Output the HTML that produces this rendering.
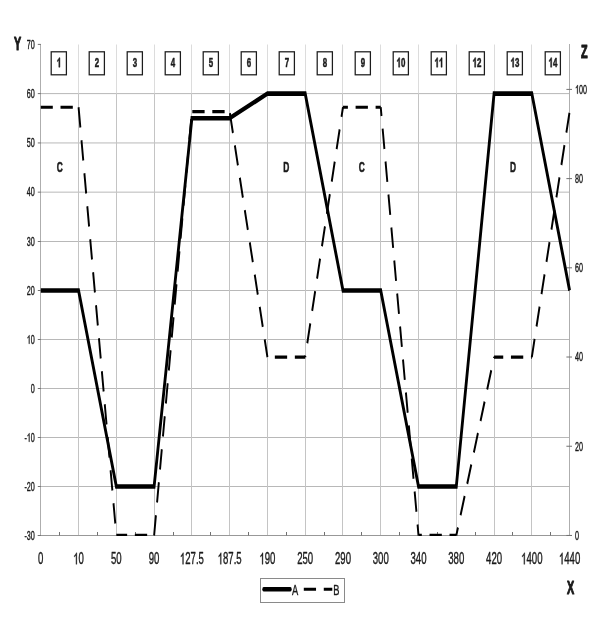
<!DOCTYPE html>
<html><head><meta charset="utf-8"><style>
html,body{margin:0;padding:0;background:#fff;}
svg{display:block;will-change:transform;font-family:"Liberation Sans",sans-serif;}
svg text{fill:#1a1a1a;stroke:#1a1a1a;stroke-width:0.4px;stroke-linejoin:round;}
svg text.b{stroke-width:0.55px;}
svg path.g{fill:#1a1a1a;stroke:#1a1a1a;stroke-linejoin:round;}
svg text.t{stroke-width:1.1px;}
</style></head><body>
<svg width="602" height="626" viewBox="0 0 602 626">
<defs><clipPath id="plotclip"><rect x="0" y="40" width="1100" height="495.9"/></clipPath></defs>
<rect width="602" height="626" fill="#fff"/>
<g>
<line x1="40.80" x2="569.60" y1="486.50" y2="486.50" stroke="#b8b8b8" stroke-width="1"/>
<line x1="40.80" x2="569.60" y1="437.50" y2="437.50" stroke="#b8b8b8" stroke-width="1"/>
<line x1="40.80" x2="569.60" y1="388.50" y2="388.50" stroke="#b8b8b8" stroke-width="1"/>
<line x1="40.80" x2="569.60" y1="339.50" y2="339.50" stroke="#b8b8b8" stroke-width="1"/>
<line x1="40.80" x2="569.60" y1="290.50" y2="290.50" stroke="#b8b8b8" stroke-width="1"/>
<line x1="40.80" x2="569.60" y1="241.50" y2="241.50" stroke="#b8b8b8" stroke-width="1"/>
<line x1="40.80" x2="569.60" y1="192.15" y2="192.15" stroke="#b8b8b8" stroke-width="1"/>
<line x1="40.80" x2="569.60" y1="142.95" y2="142.95" stroke="#b8b8b8" stroke-width="1"/>
<line x1="40.80" x2="569.60" y1="93.60" y2="93.60" stroke="#b8b8b8" stroke-width="1"/>
<line x1="78.50" x2="78.50" y1="44.50" y2="93.60" stroke="#dcdcdc" stroke-width="1"/>
<line x1="78.50" x2="78.50" y1="93.60" y2="535.50" stroke="#c4c4c4" stroke-width="1"/>
<line x1="116.50" x2="116.50" y1="44.50" y2="93.60" stroke="#dcdcdc" stroke-width="1"/>
<line x1="116.50" x2="116.50" y1="93.60" y2="535.50" stroke="#c4c4c4" stroke-width="1"/>
<line x1="154.50" x2="154.50" y1="44.50" y2="93.60" stroke="#dcdcdc" stroke-width="1"/>
<line x1="154.50" x2="154.50" y1="93.60" y2="535.50" stroke="#c4c4c4" stroke-width="1"/>
<line x1="191.50" x2="191.50" y1="44.50" y2="93.60" stroke="#dcdcdc" stroke-width="1"/>
<line x1="191.50" x2="191.50" y1="93.60" y2="535.50" stroke="#c4c4c4" stroke-width="1"/>
<line x1="229.50" x2="229.50" y1="44.50" y2="93.60" stroke="#dcdcdc" stroke-width="1"/>
<line x1="229.50" x2="229.50" y1="93.60" y2="535.50" stroke="#c4c4c4" stroke-width="1"/>
<line x1="267.50" x2="267.50" y1="44.50" y2="93.60" stroke="#dcdcdc" stroke-width="1"/>
<line x1="267.50" x2="267.50" y1="93.60" y2="535.50" stroke="#c4c4c4" stroke-width="1"/>
<line x1="305.50" x2="305.50" y1="44.50" y2="93.60" stroke="#dcdcdc" stroke-width="1"/>
<line x1="305.50" x2="305.50" y1="93.60" y2="535.50" stroke="#c4c4c4" stroke-width="1"/>
<line x1="342.50" x2="342.50" y1="44.50" y2="93.60" stroke="#dcdcdc" stroke-width="1"/>
<line x1="342.50" x2="342.50" y1="93.60" y2="535.50" stroke="#c4c4c4" stroke-width="1"/>
<line x1="380.50" x2="380.50" y1="44.50" y2="93.60" stroke="#dcdcdc" stroke-width="1"/>
<line x1="380.50" x2="380.50" y1="93.60" y2="535.50" stroke="#c4c4c4" stroke-width="1"/>
<line x1="418.50" x2="418.50" y1="44.50" y2="93.60" stroke="#dcdcdc" stroke-width="1"/>
<line x1="418.50" x2="418.50" y1="93.60" y2="535.50" stroke="#c4c4c4" stroke-width="1"/>
<line x1="456.50" x2="456.50" y1="44.50" y2="93.60" stroke="#dcdcdc" stroke-width="1"/>
<line x1="456.50" x2="456.50" y1="93.60" y2="535.50" stroke="#c4c4c4" stroke-width="1"/>
<line x1="494.50" x2="494.50" y1="44.50" y2="93.60" stroke="#dcdcdc" stroke-width="1"/>
<line x1="494.50" x2="494.50" y1="93.60" y2="535.50" stroke="#c4c4c4" stroke-width="1"/>
<line x1="531.50" x2="531.50" y1="44.50" y2="93.60" stroke="#dcdcdc" stroke-width="1"/>
<line x1="531.50" x2="531.50" y1="93.60" y2="535.50" stroke="#c4c4c4" stroke-width="1"/>
<line x1="40.50" x2="40.50" y1="44.00" y2="536.00" stroke="#aeaeae" stroke-width="1"/>
<line x1="569.50" x2="569.50" y1="44.00" y2="536.00" stroke="#aeaeae" stroke-width="1"/>
<line x1="37.80" x2="572.00" y1="535.50" y2="535.50" stroke="#989898" stroke-width="1"/>
<line x1="37.80" x2="40.80" y1="535.50" y2="535.50" stroke="#707070" stroke-width="1"/>
<line x1="37.80" x2="40.80" y1="486.50" y2="486.50" stroke="#707070" stroke-width="1"/>
<line x1="37.80" x2="40.80" y1="437.50" y2="437.50" stroke="#707070" stroke-width="1"/>
<line x1="37.80" x2="40.80" y1="388.50" y2="388.50" stroke="#707070" stroke-width="1"/>
<line x1="37.80" x2="40.80" y1="339.50" y2="339.50" stroke="#707070" stroke-width="1"/>
<line x1="37.80" x2="40.80" y1="290.50" y2="290.50" stroke="#707070" stroke-width="1"/>
<line x1="37.80" x2="40.80" y1="241.50" y2="241.50" stroke="#707070" stroke-width="1"/>
<line x1="37.80" x2="40.80" y1="192.15" y2="192.15" stroke="#707070" stroke-width="1"/>
<line x1="37.80" x2="40.80" y1="142.95" y2="142.95" stroke="#707070" stroke-width="1"/>
<line x1="37.80" x2="40.80" y1="93.60" y2="93.60" stroke="#707070" stroke-width="1"/>
<line x1="37.80" x2="40.80" y1="44.40" y2="44.40" stroke="#707070" stroke-width="1"/>
<line x1="566.40" x2="572.00" y1="535.45" y2="535.45" stroke="#707070" stroke-width="1"/>
<line x1="566.40" x2="572.00" y1="446.24" y2="446.24" stroke="#707070" stroke-width="1"/>
<line x1="566.40" x2="572.00" y1="357.03" y2="357.03" stroke="#707070" stroke-width="1"/>
<line x1="566.40" x2="572.00" y1="267.82" y2="267.82" stroke="#707070" stroke-width="1"/>
<line x1="566.40" x2="572.00" y1="178.61" y2="178.61" stroke="#707070" stroke-width="1"/>
<line x1="566.40" x2="572.00" y1="89.40" y2="89.40" stroke="#707070" stroke-width="1"/>
<line x1="59.50" x2="59.50" y1="532.00" y2="535.50" stroke="#707070" stroke-width="1"/>
<line x1="97.50" x2="97.50" y1="532.00" y2="535.50" stroke="#707070" stroke-width="1"/>
<line x1="135.50" x2="135.50" y1="532.00" y2="535.50" stroke="#707070" stroke-width="1"/>
<line x1="173.50" x2="173.50" y1="532.00" y2="535.50" stroke="#707070" stroke-width="1"/>
<line x1="210.50" x2="210.50" y1="532.00" y2="535.50" stroke="#707070" stroke-width="1"/>
<line x1="248.50" x2="248.50" y1="532.00" y2="535.50" stroke="#707070" stroke-width="1"/>
<line x1="286.50" x2="286.50" y1="532.00" y2="535.50" stroke="#707070" stroke-width="1"/>
<line x1="324.50" x2="324.50" y1="532.00" y2="535.50" stroke="#707070" stroke-width="1"/>
<line x1="361.50" x2="361.50" y1="532.00" y2="535.50" stroke="#707070" stroke-width="1"/>
<line x1="399.50" x2="399.50" y1="532.00" y2="535.50" stroke="#707070" stroke-width="1"/>
<line x1="437.50" x2="437.50" y1="532.00" y2="535.50" stroke="#707070" stroke-width="1"/>
<line x1="475.50" x2="475.50" y1="532.00" y2="535.50" stroke="#707070" stroke-width="1"/>
<line x1="512.50" x2="512.50" y1="532.00" y2="535.50" stroke="#707070" stroke-width="1"/>
<line x1="550.50" x2="550.50" y1="532.00" y2="535.50" stroke="#707070" stroke-width="1"/>
<rect x="51.20" y="51.8" width="15.2" height="23.0" fill="#fff" stroke="#1c1c1c" stroke-width="1.25"/>
<rect x="89.20" y="51.8" width="15.2" height="23.0" fill="#fff" stroke="#1c1c1c" stroke-width="1.25"/>
<rect x="127.20" y="51.8" width="15.2" height="23.0" fill="#fff" stroke="#1c1c1c" stroke-width="1.25"/>
<rect x="165.20" y="51.8" width="15.2" height="23.0" fill="#fff" stroke="#1c1c1c" stroke-width="1.25"/>
<rect x="203.20" y="51.8" width="15.2" height="23.0" fill="#fff" stroke="#1c1c1c" stroke-width="1.25"/>
<rect x="241.20" y="51.8" width="15.2" height="23.0" fill="#fff" stroke="#1c1c1c" stroke-width="1.25"/>
<rect x="279.20" y="51.8" width="15.2" height="23.0" fill="#fff" stroke="#1c1c1c" stroke-width="1.25"/>
<rect x="317.20" y="51.8" width="15.2" height="23.0" fill="#fff" stroke="#1c1c1c" stroke-width="1.25"/>
<rect x="355.20" y="51.8" width="15.2" height="23.0" fill="#fff" stroke="#1c1c1c" stroke-width="1.25"/>
<rect x="393.20" y="51.8" width="15.2" height="23.0" fill="#fff" stroke="#1c1c1c" stroke-width="1.25"/>
<rect x="431.20" y="51.8" width="15.2" height="23.0" fill="#fff" stroke="#1c1c1c" stroke-width="1.25"/>
<rect x="469.20" y="51.8" width="15.2" height="23.0" fill="#fff" stroke="#1c1c1c" stroke-width="1.25"/>
<rect x="507.20" y="51.8" width="15.2" height="23.0" fill="#fff" stroke="#1c1c1c" stroke-width="1.25"/>
<rect x="545.20" y="51.8" width="15.2" height="23.0" fill="#fff" stroke="#1c1c1c" stroke-width="1.25"/>
<rect x="260.5" y="578.5" width="84" height="24" fill="#fff" stroke="#8a8a8a" stroke-width="1"/>
</g>
<g transform="scale(0.6,1)">
<text x="58.00" y="539.80" font-size="12" text-anchor="end">-30</text>
<text x="58.00" y="490.80" font-size="12" text-anchor="end">-20</text>
<text x="40.66" y="441.80" font-size="12" text-anchor="start">-</text><path class="g" d="M763 0H583V1147Q518 1085 412.5 1023T223 930V1104Q374 1175 487 1276T647 1472H763Z" stroke-width="68.3" transform="translate(44.66,441.80) scale(0.00586,-0.00586)"/><text x="51.33" y="441.80" font-size="12" text-anchor="start">0</text>
<text x="58.00" y="392.80" font-size="12" text-anchor="end">0</text>
<path class="g" d="M763 0H583V1147Q518 1085 412.5 1023T223 930V1104Q374 1175 487 1276T647 1472H763Z" stroke-width="68.3" transform="translate(44.66,343.80) scale(0.00586,-0.00586)"/><text x="51.33" y="343.80" font-size="12" text-anchor="start">0</text>
<text x="58.00" y="294.80" font-size="12" text-anchor="end">20</text>
<text x="58.00" y="245.80" font-size="12" text-anchor="end">30</text>
<text x="58.00" y="196.45" font-size="12" text-anchor="end">40</text>
<text x="58.00" y="147.25" font-size="12" text-anchor="end">50</text>
<text x="58.00" y="97.90" font-size="12" text-anchor="end">60</text>
<text x="58.00" y="48.70" font-size="12" text-anchor="end">70</text>
<text x="958.50" y="539.75" font-size="12" text-anchor="start">0</text>
<text x="958.50" y="450.54" font-size="12" text-anchor="start">20</text>
<text x="958.50" y="361.33" font-size="12" text-anchor="start">40</text>
<text x="958.50" y="272.12" font-size="12" text-anchor="start">60</text>
<text x="958.50" y="182.91" font-size="12" text-anchor="start">80</text>
<path class="g" d="M763 0H583V1147Q518 1085 412.5 1023T223 930V1104Q374 1175 487 1276T647 1472H763Z" stroke-width="68.3" transform="translate(958.50,93.70) scale(0.00586,-0.00586)"/><text x="965.17" y="93.70" font-size="12" text-anchor="start">0</text><text x="971.84" y="93.70" font-size="12" text-anchor="start">0</text>
<text x="68.00" y="564.30" font-size="16" text-anchor="middle">0</text>
<path class="g" d="M763 0H583V1147Q518 1085 412.5 1023T223 930V1104Q374 1175 487 1276T647 1472H763Z" stroke-width="51.2" transform="translate(122.06,564.30) scale(0.00781,-0.00781)"/><text x="130.95" y="564.30" font-size="16" text-anchor="start">0</text>
<text x="193.90" y="564.30" font-size="16" text-anchor="middle">50</text>
<text x="256.86" y="564.30" font-size="16" text-anchor="middle">90</text>
<path class="g" d="M763 0H583V1147Q518 1085 412.5 1023T223 930V1104Q374 1175 487 1276T647 1472H763Z" stroke-width="51.2" transform="translate(299.79,564.30) scale(0.00781,-0.00781)"/><text x="308.69" y="564.30" font-size="16" text-anchor="start">2</text><text x="317.59" y="564.30" font-size="16" text-anchor="start">7</text><text x="326.48" y="564.30" font-size="16" text-anchor="start">.</text><text x="330.93" y="564.30" font-size="16" text-anchor="start">5</text>
<path class="g" d="M763 0H583V1147Q518 1085 412.5 1023T223 930V1104Q374 1175 487 1276T647 1472H763Z" stroke-width="51.2" transform="translate(362.75,564.30) scale(0.00781,-0.00781)"/><text x="371.64" y="564.30" font-size="16" text-anchor="start">8</text><text x="380.54" y="564.30" font-size="16" text-anchor="start">7</text><text x="389.43" y="564.30" font-size="16" text-anchor="start">.</text><text x="393.88" y="564.30" font-size="16" text-anchor="start">5</text>
<path class="g" d="M763 0H583V1147Q518 1085 412.5 1023T223 930V1104Q374 1175 487 1276T647 1472H763Z" stroke-width="51.2" transform="translate(432.37,564.30) scale(0.00781,-0.00781)"/><text x="441.27" y="564.30" font-size="16" text-anchor="start">9</text><text x="450.16" y="564.30" font-size="16" text-anchor="start">0</text>
<text x="508.67" y="564.30" font-size="16" text-anchor="middle">250</text>
<text x="571.62" y="564.30" font-size="16" text-anchor="middle">290</text>
<text x="634.57" y="564.30" font-size="16" text-anchor="middle">300</text>
<text x="697.52" y="564.30" font-size="16" text-anchor="middle">340</text>
<text x="760.48" y="564.30" font-size="16" text-anchor="middle">380</text>
<text x="823.43" y="564.30" font-size="16" text-anchor="middle">420</text>
<path class="g" d="M763 0H583V1147Q518 1085 412.5 1023T223 930V1104Q374 1175 487 1276T647 1472H763Z" stroke-width="51.2" transform="translate(868.59,564.30) scale(0.00781,-0.00781)"/><text x="877.48" y="564.30" font-size="16" text-anchor="start">4</text><text x="886.38" y="564.30" font-size="16" text-anchor="start">0</text><text x="895.28" y="564.30" font-size="16" text-anchor="start">0</text>
<path class="g" d="M763 0H583V1147Q518 1085 412.5 1023T223 930V1104Q374 1175 487 1276T647 1472H763Z" stroke-width="51.2" transform="translate(931.54,564.30) scale(0.00781,-0.00781)"/><text x="940.44" y="564.30" font-size="16" text-anchor="start">4</text><text x="949.33" y="564.30" font-size="16" text-anchor="start">4</text><text x="958.23" y="564.30" font-size="16" text-anchor="start">0</text>
<path class="g" d="M806 0H525V1059Q371 915 162 846V1101Q272 1137 401 1237.5T578 1472H806Z" stroke-width="85.3" transform="translate(94.66,67.20) scale(0.00645,-0.00645)"/>
<text x="161.67" y="67.20" font-size="13.2" text-anchor="middle" font-weight="bold" class="b">2</text>
<text x="225.00" y="67.20" font-size="13.2" text-anchor="middle" font-weight="bold" class="b">3</text>
<text x="288.33" y="67.20" font-size="13.2" text-anchor="middle" font-weight="bold" class="b">4</text>
<text x="351.67" y="67.20" font-size="13.2" text-anchor="middle" font-weight="bold" class="b">5</text>
<text x="415.00" y="67.20" font-size="13.2" text-anchor="middle" font-weight="bold" class="b">6</text>
<text x="478.33" y="67.20" font-size="13.2" text-anchor="middle" font-weight="bold" class="b">7</text>
<text x="541.67" y="67.20" font-size="13.2" text-anchor="middle" font-weight="bold" class="b">8</text>
<text x="605.00" y="67.20" font-size="13.2" text-anchor="middle" font-weight="bold" class="b">9</text>
<path class="g" d="M806 0H525V1059Q371 915 162 846V1101Q272 1137 401 1237.5T578 1472H806Z" stroke-width="85.3" transform="translate(660.99,67.20) scale(0.00645,-0.00645)"/><text x="668.33" y="67.20" font-size="13.2" text-anchor="start" font-weight="bold" class="b">0</text>
<path class="g" d="M806 0H525V1059Q371 915 162 846V1101Q272 1137 401 1237.5T578 1472H806Z" stroke-width="85.3" transform="translate(724.33,67.20) scale(0.00645,-0.00645)"/><path class="g" d="M806 0H525V1059Q371 915 162 846V1101Q272 1137 401 1237.5T578 1472H806Z" stroke-width="85.3" transform="translate(731.67,67.20) scale(0.00645,-0.00645)"/>
<path class="g" d="M806 0H525V1059Q371 915 162 846V1101Q272 1137 401 1237.5T578 1472H806Z" stroke-width="85.3" transform="translate(787.66,67.20) scale(0.00645,-0.00645)"/><text x="795.00" y="67.20" font-size="13.2" text-anchor="start" font-weight="bold" class="b">2</text>
<path class="g" d="M806 0H525V1059Q371 915 162 846V1101Q272 1137 401 1237.5T578 1472H806Z" stroke-width="85.3" transform="translate(850.99,67.20) scale(0.00645,-0.00645)"/><text x="858.33" y="67.20" font-size="13.2" text-anchor="start" font-weight="bold" class="b">3</text>
<path class="g" d="M806 0H525V1059Q371 915 162 846V1101Q272 1137 401 1237.5T578 1472H806Z" stroke-width="85.3" transform="translate(914.33,67.20) scale(0.00645,-0.00645)"/><text x="921.67" y="67.20" font-size="13.2" text-anchor="start" font-weight="bold" class="b">4</text>
<text x="99.48" y="172.3" font-size="14" font-weight="bold" class="b" text-anchor="middle">C</text>
<text x="477.19" y="172.3" font-size="14" font-weight="bold" class="b" text-anchor="middle">D</text>
<text x="603.10" y="172.3" font-size="14" font-weight="bold" class="b" text-anchor="middle">C</text>
<text x="854.90" y="172.3" font-size="14" font-weight="bold" class="b" text-anchor="middle">D</text>
<g clip-path="url(#plotclip)">
<line x1="68.00" y1="107.24" x2="130.95" y2="107.24" stroke="#000" stroke-width="3.2" stroke-dasharray="20.5 12.85" stroke-dashoffset="0.50"/>
<line x1="130.95" y1="107.24" x2="193.90" y2="535.45" stroke="#000" stroke-width="3.2" stroke-dasharray="20.5 12.85" stroke-dashoffset="0.00"/>
<line x1="193.90" y1="535.45" x2="256.86" y2="535.45" stroke="#000" stroke-width="3.2" stroke-dasharray="20.5 12.85" stroke-dashoffset="2.50"/>
<line x1="256.86" y1="535.45" x2="319.81" y2="111.70" stroke="#000" stroke-width="3.2" stroke-dasharray="20.5 12.85" stroke-dashoffset="0.00"/>
<line x1="319.81" y1="111.70" x2="382.76" y2="111.70" stroke="#000" stroke-width="3.2" stroke-dasharray="20.5 12.85" stroke-dashoffset="32.65"/>
<line x1="382.76" y1="111.70" x2="445.71" y2="357.03" stroke="#000" stroke-width="3.2" stroke-dasharray="20.5 12.85" stroke-dashoffset="31.85"/>
<line x1="445.71" y1="357.03" x2="508.67" y2="357.03" stroke="#000" stroke-width="3.2" stroke-dasharray="20.5 12.85" stroke-dashoffset="21.00"/>
<line x1="508.67" y1="357.03" x2="571.62" y2="107.24" stroke="#000" stroke-width="3.2" stroke-dasharray="20.5 12.85" stroke-dashoffset="19.15"/>
<line x1="571.62" y1="107.24" x2="634.57" y2="107.24" stroke="#000" stroke-width="3.2" stroke-dasharray="20.5 12.85" stroke-dashoffset="12.30"/>
<line x1="634.57" y1="107.24" x2="697.52" y2="535.45" stroke="#000" stroke-width="3.2" stroke-dasharray="20.5 12.85" stroke-dashoffset="11.75"/>
<line x1="697.52" y1="535.45" x2="760.48" y2="535.45" stroke="#000" stroke-width="3.2" stroke-dasharray="20.5 12.85" stroke-dashoffset="15.00"/>
<line x1="760.48" y1="535.45" x2="823.43" y2="357.03" stroke="#000" stroke-width="3.2" stroke-dasharray="20.5 12.85" stroke-dashoffset="12.00"/>
<line x1="823.43" y1="357.03" x2="886.38" y2="357.03" stroke="#000" stroke-width="3.2" stroke-dasharray="20.5 12.85" stroke-dashoffset="5.20"/>
<line x1="886.38" y1="357.03" x2="949.33" y2="111.70" stroke="#000" stroke-width="3.2" stroke-dasharray="20.5 12.85" stroke-dashoffset="1.85"/>
<polyline points="68.00,290.50 130.95,290.50 193.90,486.50 256.86,486.50 319.81,118.27 382.76,118.27 445.71,93.60 508.67,93.60 571.62,290.50 634.57,290.50 697.52,486.50 760.48,486.50 823.43,93.60 886.38,93.60 949.33,290.50" fill="none" stroke="#000" stroke-width="4.7" stroke-linejoin="miter"/>
</g>
<text x="29.33" y="49.7" font-size="18" font-weight="bold" class="t" text-anchor="middle">Y</text>
<text x="973.83" y="58.5" font-size="18" font-weight="bold" class="t" text-anchor="middle">Z</text>
<text x="951.17" y="594" font-size="18" font-weight="bold" class="t" text-anchor="middle">X</text>
<line x1="439.50" x2="483.83" y1="589.3" y2="589.3" stroke="#000" stroke-width="4.6" stroke-linecap="round"/>
<text x="486.67" y="595.4" font-size="15.5" text-anchor="start">A</text>
<line x1="506.33" x2="553.83" y1="589.3" y2="589.3" stroke="#000" stroke-width="3" stroke-dasharray="20.4 12.9"/>
<text x="555.50" y="595.4" font-size="15.5" text-anchor="start">B</text>
</g>
</svg>
</body></html>
